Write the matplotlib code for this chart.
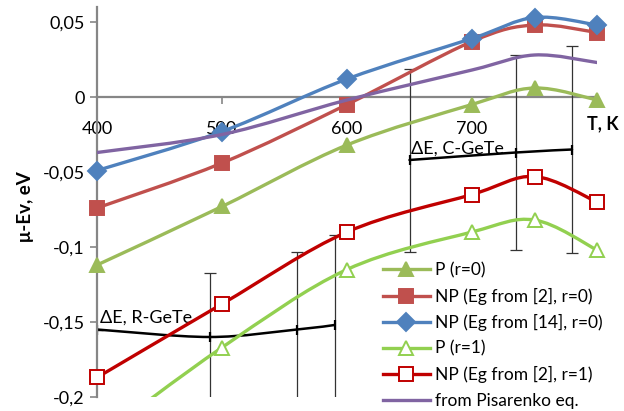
import numpy as np
import matplotlib
matplotlib.use("Agg")
import matplotlib.pyplot as plt
from matplotlib.path import Path
from matplotlib.patches import PathPatch
from matplotlib.lines import Line2D
from matplotlib.ticker import FuncFormatter

plt.rcParams['font.family'] = ['Lato', 'DejaVu Sans']

# --- data ---
T = [400, 500, 600, 700, 750, 800]
p_r0 = [-0.112, -0.073, -0.032, -0.005, 0.006, -0.002]
np2_r0 = [-0.074, -0.044, -0.005, 0.037, 0.048, 0.043]
np14_r0 = [-0.049, -0.023, 0.012, 0.039, 0.053, 0.048]
p_r1 = [-0.228, -0.167, -0.115, -0.090, -0.082, -0.102]
np2_r1 = [-0.187, -0.138, -0.090, -0.065, -0.053, -0.070]
pisarenko = [-0.037, -0.025, -0.002, 0.018, 0.028, 0.023]

T_rgete = [400, 490, 560, 590]
dE_rgete = [-0.155, -0.160, -0.155, -0.152]
err_rgete = [0.0, 0.043, 0.052, 0.060]

T_cgete = [650, 735, 780]
dE_cgete = [-0.042, -0.037, -0.035]
err_cgete = [0.061, 0.065, 0.069]

xticks = [400, 500, 600, 700, 800]
xticklabels = ['400', '500', '600', '700', '']
yticks = [-0.2, -0.15, -0.1, -0.05, 0, 0.05]
ylim = (-0.2, 0.06)


def smooth_path(x, y):
    # Excel-style smoothed line: Catmull-Rom segments as cubic Beziers
    pts = np.column_stack([x, y]).astype(float)
    n = len(pts)
    verts = [pts[0]]
    codes = [Path.MOVETO]
    for i in range(n - 1):
        p0 = pts[i - 1] if i > 0 else pts[i]
        p1, p2 = pts[i], pts[i + 1]
        p3 = pts[i + 2] if i + 2 < n else pts[i + 1]
        verts += [p1 + (p2 - p0) / 6, p2 - (p3 - p1) / 6, p2]
        codes += [Path.CURVE4] * 3
    return Path(verts, codes)


def smooth_line(ax, x, y, color, lw, z=2):
    ax.add_patch(PathPatch(smooth_path(x, y), fill=False, edgecolor=color,
                           lw=lw, capstyle='round', joinstyle='round', zorder=z))


fig = plt.figure(figsize=(6.24, 4.11), dpi=100)
ax = fig.add_axes([97 / 624, 1 - 397 / 411, 500 / 624, 390 / 411])

# black dE lines with error bars
for tx, ty, te in [(T_rgete, dE_rgete, err_rgete), (T_cgete, dE_cgete, err_cgete)]:
    ax.errorbar(tx, ty, yerr=te, fmt='none', ecolor='#333333', elinewidth=0.9,
                capsize=4, capthick=0.9, zorder=1.5)
    smooth_line(ax, tx, ty, 'black', 1.8, z=1.8)
    ax.plot(tx, ty, ls='none', marker='|', ms=7, mew=1.6, color='black', zorder=1.9)

series = [
    (p_r0, '#9BBB59', '^', 10, '#9BBB59', 'P (r=0)'),
    (np2_r0, '#C0504D', 's', 10, '#C0504D', 'NP (Eg from [2], r=0)'),
    (np14_r0, '#4F81BD', 'D', 9, '#4F81BD', 'NP (Eg from [14], r=0)'),
    (p_r1, '#92D050', '^', 10, 'white', 'P (r=1)'),
    (np2_r1, '#C00000', 's', 10, 'white', 'NP (Eg from [2], r=1)'),
    (pisarenko, '#8064A2', None, 0, None, 'from Pisarenko eq.'),
]

handles = []
for k, (vals, col, mk, ms, mfc, lab) in enumerate(series):
    z = 3 + k * 0.1
    smooth_line(ax, T, vals, col, 2.4, z=z)
    if mk:
        # markers may overhang the axes edge, but only points inside the y range are drawn
        inside = [(t, v) for t, v in zip(T, vals) if ylim[0] <= v <= ylim[1]]
        ax.plot([t for t, v in inside], [v for t, v in inside], ls='none', marker=mk,
                ms=ms, mfc=mfc, mec=col, mew=1.4, zorder=z + 0.05, clip_on=False)
        handles.append(Line2D([], [], color=col, lw=2.4, marker=mk, ms=ms,
                              mfc=mfc, mec=col, mew=1.4, label=lab))
    else:
        handles.append(Line2D([], [], color=col, lw=2.4, label=lab))

ax.set_xlim(400, 800)
ax.set_ylim(*ylim)

for s in ['top', 'right']:
    ax.spines[s].set_visible(False)
ax.spines['left'].set_color('#868686')
ax.spines['left'].set_linewidth(1.6)
ax.spines['bottom'].set_position(('data', 0))
ax.spines['bottom'].set_color('#868686')
ax.spines['bottom'].set_linewidth(1.6)
ax.spines['bottom'].set_zorder(1)

ax.set_xticks(xticks)
ax.set_xticklabels(xticklabels)
ax.set_yticks(yticks)
ax.yaxis.set_major_formatter(FuncFormatter(lambda v, p: ('%g' % round(v, 3)).replace('.', ',')))
ax.tick_params(axis='both', direction='out', length=5, width=1.2, color='#868686',
               labelsize=13, labelcolor='black')
ax.tick_params(axis='x', pad=12)
ax.tick_params(axis='y', pad=4)

ax.text(792, -0.018, 'T, K', fontsize=13, fontweight='bold', ha='left', va='center')
ax.text(651, -0.0345, 'ΔE, C-GeTe', fontsize=13, ha='left', va='center')
ax.text(402, -0.147, 'ΔE, R-GeTe', fontsize=13, ha='left', va='center')
fig.text(25 / 624, 1 - 207 / 411, 'μ-Ev, eV', fontsize=13.5, fontweight='bold',
         rotation=90, ha='center', va='center')

leg = fig.legend(handles=handles, loc='upper left', bbox_to_anchor=(383 / 624, 1 - 262 / 411),
                 frameon=False, fontsize=12.5, handlelength=2.7, handletextpad=0.3,
                 labelspacing=0.55, borderpad=0, borderaxespad=0)
leg.set_zorder(10)

fig.savefig('out.png', dpi=100)
